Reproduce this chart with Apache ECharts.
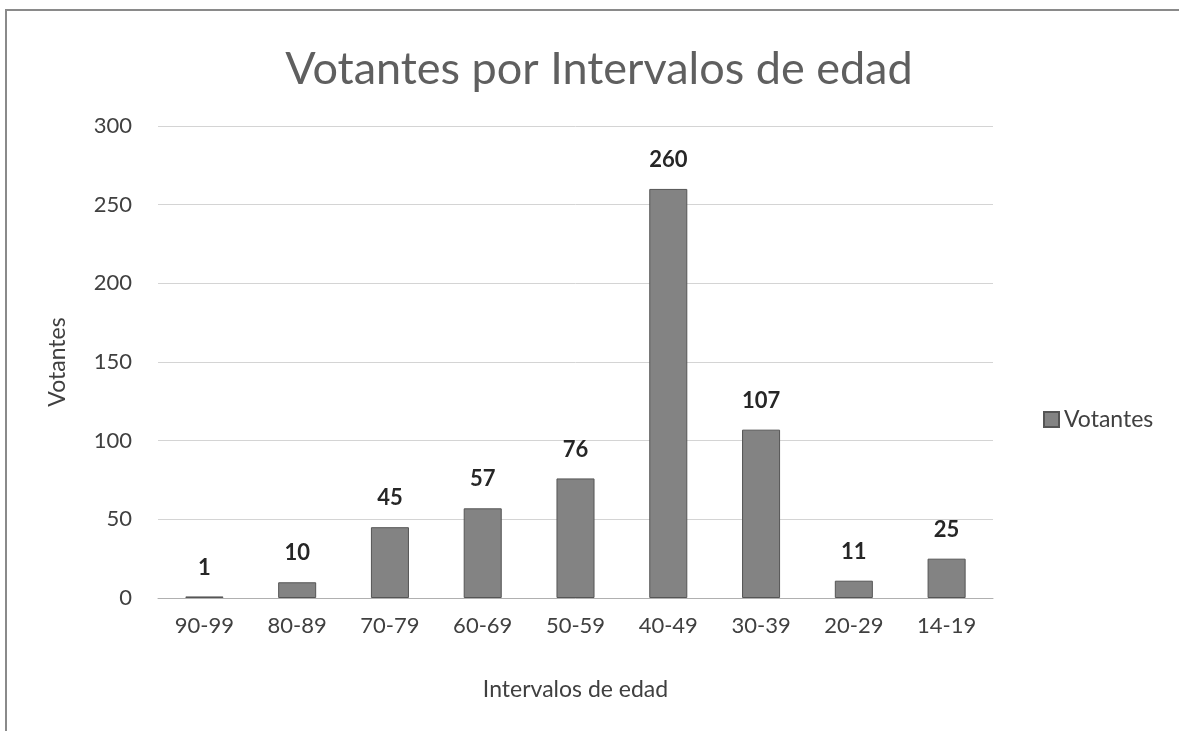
<!DOCTYPE html>
<html><head><meta charset="utf-8">
<script src="https://cdn.jsdelivr.net/npm/echarts@6/dist/echarts.min.js"></script>
<style>html,body{margin:0;padding:0;background:#fff}#c{width:1179px;height:731px}</style>
</head><body><div id="c"></div>
<script>
const categories = ['90-99','80-89','70-79','60-69','50-59','40-49','30-39','20-29','14-19'];
const votantes = [1,10,45,57,76,260,107,11,25];
const yTicks = [0,50,100,150,200,250,300];
const F = 'Lato, "Noto Sans", sans-serif';
const chart = echarts.init(document.getElementById('c'));
chart.setOption({
  animation:false,
  backgroundColor:'#fff',
  graphic:[{type:'polyline',shape:{points:[[6,731],[6,10],[1179,10]]},style:{stroke:'#8a8a8a',lineWidth:2,fill:null}}],
  title:{text:'Votantes por Intervalos de edad',left:594,top:42,textAlign:'center',
    textStyle:{fontFamily:F,fontSize:45,fontWeight:'normal',color:'#5f5f5f'}},
  legend:{data:['Votantes'],left:1038,top:403,itemWidth:15,itemHeight:15,itemGap:5,icon:'rect',
    textStyle:{fontFamily:F,fontSize:23,color:'#404040'}},
  grid:{left:158,right:186,top:126,bottom:133},
  xAxis:{type:'category',data:categories,name:'Intervalos de edad',nameLocation:'middle',nameGap:80,
    nameTextStyle:{fontFamily:F,fontSize:23,color:'#404040'},
    axisLine:{lineStyle:{color:'#b0b0b0'}},axisTick:{show:false},
    axisLabel:{fontFamily:F,fontSize:22,color:'#404040',margin:17}},
  yAxis:{type:'value',min:0,max:300,interval:50,name:'Votantes',nameLocation:'middle',nameGap:89,
    nameTextStyle:{fontFamily:F,fontSize:23,color:'#404040'},
    axisLine:{show:false},axisTick:{show:false},
    splitLine:{lineStyle:{color:'#d4d4d4'}},
    axisLabel:{fontFamily:F,fontSize:22,color:'#404040',margin:26,
      formatter:v=>yTicks.includes(v)?String(v):''}},
  series:[{name:'Votantes',type:'bar',data:votantes,barWidth:'41%',
    itemStyle:{color:'#838383',borderColor:'#555555',borderWidth:1},
    label:{show:true,position:'top',distance:18,fontFamily:F,fontSize:22,fontWeight:'bold',color:'#262626'}}]
});
</script></body></html>
